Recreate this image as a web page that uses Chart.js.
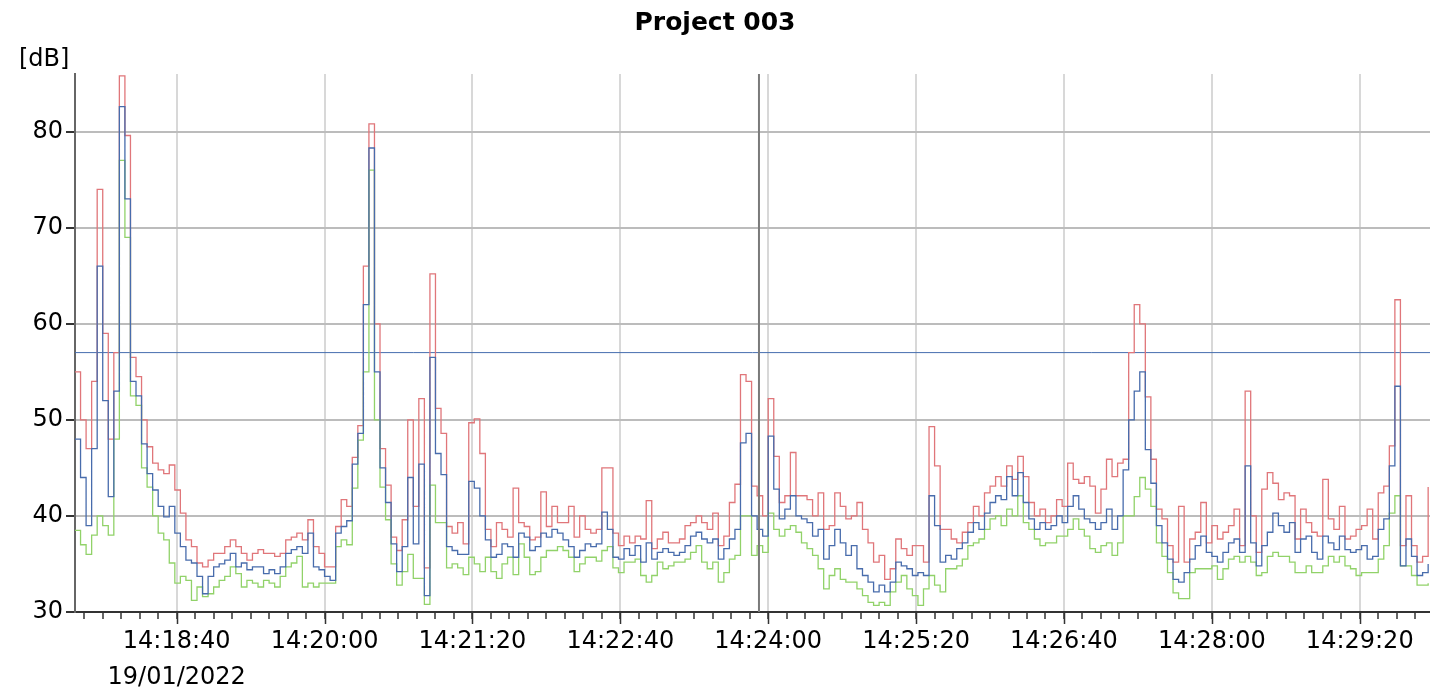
<!DOCTYPE html>
<html>
<head>
<meta charset="utf-8">
<title>Project 003</title>
<script src="https://cdn.jsdelivr.net/npm/chart.js@4.4.1/dist/chart.umd.min.js"></script>
<style>
  body { margin: 0; background: #fff; }
  #grafico { display: block; }
</style>
</head>
<body>
<canvas id="grafico" width="1430" height="693"></canvas>
<script>
// 3 s samples starting at 14:17:45
var startTime = '14:17:45'
var endTime = '14:29:58'
var sampleStep = 3

var lafMax = [
  55, 50, 47, 54, 74, 59, 48, 57, 85.8, 79.6,
  56.5, 54.5, 50, 47.2, 45.5, 44.8, 44.4, 45.3, 42.7, 40.3,
  37.5, 36.8, 35.1, 34.7, 35.4, 36.1, 36.1, 36.8, 37.5, 36.8,
  36.1, 35.4, 36.1, 36.5, 36.1, 36.1, 35.8, 36.1, 37.5, 37.8,
  38.2, 37.5, 39.6, 36.8, 36.1, 34.7, 34.7, 38.9, 41.7, 41,
  46.1, 49.4, 66, 80.8, 60, 47, 43.2, 37.8, 36.4, 39.6,
  50, 41, 52.2, 34.6, 65.2, 51.2, 48.6, 38.9, 38.2, 39.3,
  37.1, 49.7, 50.1, 46.5, 38.6, 36.8, 39.3, 38.6, 37.8, 42.9,
  39.3, 38.9, 37.5, 37.8, 42.5, 38.9, 41, 39.3, 39.3, 41,
  37.8, 40, 38.6, 38.2, 38.6, 45, 45, 38.2, 36.9, 37.9,
  37.2, 37.9, 37.6, 41.6, 36.6, 37.6, 38.3, 37.2, 37.2, 37.6,
  39, 39.3, 40, 39.3, 38.6, 40.3, 36.9, 37.9, 41.4, 43.3,
  54.7, 54, 43.1, 42.1, 40, 52.2, 46.2, 41.4, 42.1, 46.6,
  42.1, 42.1, 41.7, 40, 42.4, 38.6, 39, 42.4, 41, 39.7,
  40, 41.4, 38.6, 37.2, 35.2, 35.9, 33.4, 34.5, 37.6, 36.6,
  35.9, 36.9, 36.9, 35.2, 49.3, 45.2, 38.6, 38.6, 37.6, 37.2,
  38.3, 39.3, 41, 40, 42.4, 43.1, 44.1, 43.1, 45.2, 43.8,
  46.2, 44.1, 41.4, 40, 40.7, 39.3, 40, 41.7, 41, 45.5,
  43.8, 43.4, 44.1, 43.1, 40.3, 42.8, 45.9, 44.1, 45.5, 45.9,
  57, 62, 60, 52.4, 45.9, 40.7, 39.7, 36.9, 35.2, 41,
  35.2, 37.6, 38.3, 41.4, 37.2, 39, 37.6, 38.3, 39, 40.7,
  36.9, 53, 40, 36.2, 42.8, 44.5, 43.4, 41.7, 42.4, 42.1,
  37.6, 40.7, 39.3, 38.3, 37.9, 43.8, 39.7, 38.6, 41, 37.6,
  37.9, 38.6, 39, 40.7, 37.6, 42.4, 43.1, 47.3, 62.5, 36.9,
  42.1, 36.9, 35.2, 35.8, 43
]

var laeq = [
  48, 44, 39, 47, 66, 52, 42, 53, 82.6, 73,
  54, 52.5, 47.5, 44.4, 42.7, 41, 39.9, 41, 38.2, 36.8,
  35.4, 35.1, 33.7, 31.9, 33.7, 34.7, 35, 35.4, 36.1, 34.7,
  35.1, 34.4, 34.7, 34.7, 34, 34.4, 34, 34.7, 36.1, 36.5,
  36.8, 36.1, 38.2, 34.7, 34.4, 33.7, 33.3, 38.2, 38.9, 39.5,
  45.4, 48.6, 62, 78.3, 55, 45, 41.4, 37.1, 34.2, 36.8,
  44, 37.1, 45.4, 31.7, 56.5, 46.5, 44.3, 36.8, 36.4, 36,
  36, 43.6, 42.9, 40, 37.5, 35.7, 36, 37.1, 36.8, 35.7,
  38.2, 37.8, 36.4, 36.8, 38.2, 37.8, 38.6, 38.2, 37.5, 36.8,
  35.7, 36.4, 37.1, 36.8, 37.1, 40.4, 38.6, 35.7, 35.5, 36.6,
  35.9, 36.9, 35.2, 37.2, 35.5, 36.2, 36.6, 36.2, 35.9, 36.2,
  36.9, 37.9, 38.3, 37.6, 37.2, 37.6, 35.5, 36.6, 37.6, 38.6,
  47.6, 48.6, 40, 38.6, 37.9, 48.3, 42.8, 39.7, 40.7, 42.1,
  40, 39.7, 39.3, 37.9, 38.6, 35.5, 36.9, 38.6, 37.2, 35.9,
  36.9, 34.5, 33.8, 33.1, 32.1, 32.8, 32.1, 33.1, 35.2, 34.8,
  34.5, 33.8, 34.1, 33.8, 42.1, 39, 35.2, 35.9, 35.5, 36.6,
  37.2, 38.3, 39.3, 38.6, 40.3, 41.4, 42.1, 41.7, 44.1, 42.1,
  44.5, 41.4, 39.7, 38.6, 39.3, 38.6, 39, 40, 39.3, 41,
  42.1, 40.7, 39.7, 39.3, 38.6, 39.3, 40.7, 38.6, 40, 44.8,
  50, 53, 55, 46.9, 43.4, 39, 37.2, 35.5, 33.4, 33.1,
  34.1, 35.5, 36.9, 37.9, 36.2, 35.8, 35.2, 36.2, 37.2, 37.6,
  36.2, 45.2, 37.2, 34.8, 36.9, 38.3, 40.3, 39, 38.3, 39.3,
  36.2, 37.6, 37.9, 36.2, 35.5, 37.9, 37.2, 36.5, 37.9, 36.5,
  36.2, 36.5, 36.9, 35.5, 35.8, 38.6, 39.7, 45.2, 53.5, 34.8,
  37.6, 35.8, 33.8, 34.1, 35
]

var lafMin = [
  38.5, 37, 36, 38, 40, 39, 38, 48, 77, 69,
  52.5, 51.5, 45, 43, 40, 38.2, 37.5, 35.1, 33, 33.7,
  33.3, 31.2, 32.6, 31.6, 31.9, 32.6, 33.3, 33.7, 34.7, 34,
  32.6, 33.3, 33, 32.6, 33.3, 33, 32.6, 33.7, 34.7, 35.1,
  35.8, 32.6, 33, 32.6, 33, 33, 33, 36.8, 37.5, 37,
  42.9, 47.9, 55, 76, 50, 43, 39.6, 35, 32.8, 34.2,
  36, 33.5, 33.5, 30.8, 43.2, 39.3, 39.3, 34.6, 35, 34.6,
  33.9, 35.7, 35, 34.2, 35.7, 34.2, 33.5, 35, 35.7, 33.9,
  37.1, 35.7, 33.9, 34.2, 35.7, 36.4, 36.4, 36.8, 36.4, 35.7,
  34.2, 35, 35.7, 35.7, 35.3, 36.4, 36.8, 34.6, 34.1, 35.2,
  35.2, 35.5, 33.8, 33.1, 33.8, 35.2, 34.5, 34.8, 35.2, 35.2,
  35.5, 36.2, 36.9, 35.2, 34.5, 35.2, 33.1, 34.1, 35.5, 35.9,
  40, 40, 35.9, 36.9, 36.2, 40.3, 38.6, 37.9, 38.6, 39,
  38.3, 37.2, 36.6, 35.9, 34.5, 32.4, 33.8, 34.5, 33.4, 33.1,
  33.1, 32.4, 31.7, 31, 30.7, 31, 30.7, 32.1, 33.1, 33.8,
  32.4, 31.7, 30.7, 32.4, 33.8, 32.8, 32.1, 34.5, 34.5, 34.8,
  35.5, 36.9, 37.2, 37.6, 38.6, 39.7, 40, 39, 40.7, 40,
  42.1, 39.3, 38.6, 37.6, 36.9, 37.2, 37.2, 37.9, 37.9, 38.6,
  39.7, 38.6, 37.9, 36.6, 36.2, 36.9, 37.2, 35.9, 37.2, 40,
  40, 42, 44, 42.8, 41, 37.2, 35.8, 34.1, 32, 31.4,
  31.4, 34.1, 34.5, 34.5, 34.5, 34.8, 33.4, 34.5, 35.5, 35.8,
  35.2, 35.8, 35.2, 33.8, 34.1, 35.8, 36.2, 35.8, 35.8, 35.2,
  34.1, 34.1, 34.8, 34.1, 34.1, 34.8, 35.8, 35.2, 35.8, 34.8,
  34.5, 33.8, 34.1, 34.1, 34.1, 35.5, 36.9, 40.3, 42.1, 34.8,
  34.8, 33.8, 32.8, 32.8, 33
]

var limiteDb = 57
var cursorTime = '14:23:55'

var yTicks = [30, 40, 50, 60, 70, 80]
var yMin = 30
var yMax = 86
var xTickLabels = ['14:18:40', '14:20:00', '14:21:20', '14:22:40', '14:24:00',
  '14:25:20', '14:26:40', '14:28:00', '14:29:20']
var dateLabel = '19/01/2022'
var minorStep = 10

function toSec(hms) {
  var p = hms.split(':')
  return Number(p[0]) * 3600 + Number(p[1]) * 60 + Number(p[2])
}

function toHms(sec) {
  var h = Math.floor(sec / 3600)
  var m = Math.floor((sec % 3600) / 60)
  var s = sec % 60
  return `${h}:${m < 10 ? '0' + m : m}:${s < 10 ? '0' + s : s}`
}

var t0 = toSec(startTime)
var tEnd = toSec(endTime)
var majorSec = xTickLabels.map(toSec)

function serie(valores) {
  return valores.map((v, i) => ({ x: t0 + i * sampleStep, y: v }))
}

function isMajor(v) {
  return majorSec.indexOf(v) >= 0
}

// [dB] label and the longer major tick marks
var unidadePlugin = {
  id: 'unidade',
  afterDraw(chart) {
    var ctx = chart.ctx
    var xs = chart.scales.x
    ctx.save()
    ctx.font = '24px "DejaVu Sans"'
    ctx.fillStyle = '#000'
    ctx.textAlign = 'left'
    ctx.textBaseline = 'middle'
    ctx.fillText('[dB]', 19, 60)

    ctx.strokeStyle = '#333'
    ctx.lineWidth = 1.5
    ctx.beginPath()
    majorSec.forEach(v => {
      var px = Math.round(xs.getPixelForValue(v)) + 0.5
      ctx.moveTo(px, xs.top)
      ctx.lineTo(px, xs.top + 12)
    })
    ctx.stroke()
    ctx.restore()
  }
}

var ctx = document.getElementById('grafico')

var grafico = new Chart(ctx, {
  type: 'line',
  data: {
    datasets: [{
      label: 'cursor',
      data: [{ x: toSec(cursorTime), y: yMin }, { x: toSec(cursorTime), y: yMax }],
      borderColor: '#7a7a7a',
      borderWidth: 2,
      order: 0
    }, {
      label: 'LAeq',
      data: serie(laeq),
      borderColor: 'rgb(72, 108, 172)',
      borderWidth: 1.3,
      stepped: true,
      order: 1
    }, {
      label: 'LAFmin',
      data: serie(lafMin),
      borderColor: 'rgb(145, 210, 105)',
      borderWidth: 1.3,
      stepped: true,
      order: 2
    }, {
      label: 'LAFmax',
      data: serie(lafMax),
      borderColor: 'rgb(224, 118, 122)',
      borderWidth: 1.3,
      stepped: true,
      order: 3
    }, {
      label: 'limite',
      data: [{ x: t0, y: limiteDb }, { x: tEnd, y: limiteDb }],
      borderColor: 'rgb(70, 110, 175)',
      borderWidth: 1,
      order: 4
    }]
  },
  options: {
    responsive: false,
    animation: false,
    devicePixelRatio: 1,
    events: [],
    elements: {
      point: { radius: 0 },
      line: { tension: 0 }
    },
    layout: { padding: 0 },
    plugins: {
      legend: { display: false },
      tooltip: { enabled: false },
      title: {
        display: true,
        text: 'Project 003',
        color: '#000',
        font: { family: 'DejaVu Sans', size: 25, weight: 'bold' },
        padding: { top: 8, bottom: 36 }
      }
    },
    scales: {
      x: {
        type: 'linear',
        min: t0,
        max: tEnd,
        afterFit: scale => { scale.height = 81 },
        afterBuildTicks: scale => {
          var lista = []
          for (var v = Math.ceil(t0 / minorStep) * minorStep; v <= tEnd; v += minorStep) {
            lista.push({ value: v })
          }
          scale.ticks = lista
        },
        border: { color: '#333', width: 2 },
        grid: {
          color: c => (c.tick && isMajor(c.tick.value)) ? '#d8d8d8' : 'rgba(0,0,0,0)',
          lineWidth: 2,
          tickColor: '#333',
          tickLength: 7,
          tickWidth: 1.5
        },
        ticks: {
          autoSkip: false,
          maxRotation: 0,
          minRotation: 0,
          padding: 5,
          color: '#000',
          font: { family: 'DejaVu Sans', size: 24, lineHeight: 1.5 },
          callback: v => {
            if (!isMajor(v)) return ''
            if (v === majorSec[0]) return [toHms(v), dateLabel]
            return toHms(v)
          }
        }
      },
      y: {
        min: yMin,
        max: yMax,
        afterFit: scale => { scale.width = 75 },
        afterBuildTicks: scale => {
          scale.ticks = yTicks.map(v => ({ value: v }))
        },
        border: { color: '#666', width: 2 },
        grid: {
          color: '#bcbcbc',
          lineWidth: 2,
          tickColor: '#333',
          tickLength: 9
        },
        ticks: {
          padding: 3,
          color: '#000',
          font: { family: 'DejaVu Sans', size: 24 }
        }
      }
    }
  },
  plugins: [unidadePlugin]
});
</script>
</body>
</html>
